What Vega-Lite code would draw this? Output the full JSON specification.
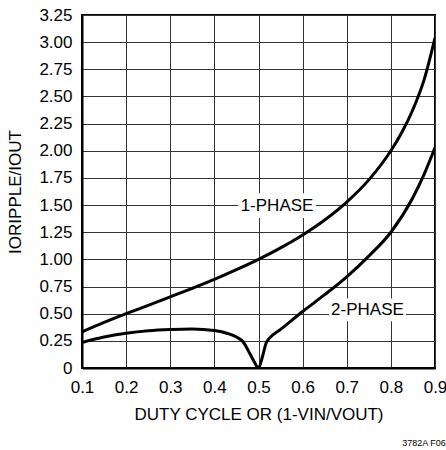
{
  "$schema": "https://vega.github.io/schema/vega-lite/v6.json",
  "width": 353,
  "height": 353,
  "autosize": {"type": "none"},
  "padding": {"left": 82, "top": 15, "right": 11, "bottom": 82},
  "background": "white",
  "title": {"text": "3782A F06", "orient": "bottom", "anchor": "end", "fontSize": 9, "font": "Liberation Sans", "fontWeight": "normal", "color": "black", "offset": 17, "dx": -1},
  "config": {
    "view": {"stroke": "black", "strokeWidth": 2},
    "text": {"font": "Liberation Sans"},
    "axis": {
      "labelFont": "Liberation Sans",
      "titleFont": "Liberation Sans",
      "labelFontSize": 17,
      "titleFontSize": 17,
      "titleFontWeight": "normal",
      "labelColor": "black",
      "titleColor": "black",
      "domainColor": "black",
      "domainWidth": 2,
      "ticks": false,
      "gridColor": "#333",
      "gridWidth": 1,
      "gridOpacity": 1
    }
  },
  "datasets": {
    "curves": [
      {"d": 0.1, "r": 0.333, "s": "1-PHASE"},
      {"d": 0.15, "r": 0.42, "s": "1-PHASE"},
      {"d": 0.2, "r": 0.5, "s": "1-PHASE"},
      {"d": 0.25, "r": 0.577, "s": "1-PHASE"},
      {"d": 0.3, "r": 0.655, "s": "1-PHASE"},
      {"d": 0.35, "r": 0.734, "s": "1-PHASE"},
      {"d": 0.4, "r": 0.816, "s": "1-PHASE"},
      {"d": 0.45, "r": 0.905, "s": "1-PHASE"},
      {"d": 0.5, "r": 1.0, "s": "1-PHASE"},
      {"d": 0.55, "r": 1.106, "s": "1-PHASE"},
      {"d": 0.6, "r": 1.225, "s": "1-PHASE"},
      {"d": 0.65, "r": 1.363, "s": "1-PHASE"},
      {"d": 0.7, "r": 1.528, "s": "1-PHASE"},
      {"d": 0.75, "r": 1.732, "s": "1-PHASE"},
      {"d": 0.8, "r": 2.0, "s": "1-PHASE"},
      {"d": 0.825, "r": 2.17, "s": "1-PHASE"},
      {"d": 0.85, "r": 2.38, "s": "1-PHASE"},
      {"d": 0.875, "r": 2.65, "s": "1-PHASE"},
      {"d": 0.9, "r": 3.04, "s": "1-PHASE"},
      {"d": 0.1, "r": 0.235, "s": "2-PHASE"},
      {"d": 0.15, "r": 0.285, "s": "2-PHASE"},
      {"d": 0.2, "r": 0.32, "s": "2-PHASE"},
      {"d": 0.25, "r": 0.343, "s": "2-PHASE"},
      {"d": 0.3, "r": 0.355, "s": "2-PHASE"},
      {"d": 0.35, "r": 0.36, "s": "2-PHASE"},
      {"d": 0.4, "r": 0.345, "s": "2-PHASE"},
      {"d": 0.43, "r": 0.318, "s": "2-PHASE"},
      {"d": 0.45, "r": 0.285, "s": "2-PHASE"},
      {"d": 0.465, "r": 0.242, "s": "2-PHASE"},
      {"d": 0.48, "r": 0.135, "s": "2-PHASE"},
      {"d": 0.49, "r": 0.06, "s": "2-PHASE"},
      {"d": 0.5, "r": 0.0, "s": "2-PHASE"},
      {"d": 0.51, "r": 0.12, "s": "2-PHASE"},
      {"d": 0.517, "r": 0.227, "s": "2-PHASE"},
      {"d": 0.525, "r": 0.275, "s": "2-PHASE"},
      {"d": 0.55, "r": 0.355, "s": "2-PHASE"},
      {"d": 0.6, "r": 0.52, "s": "2-PHASE"},
      {"d": 0.65, "r": 0.675, "s": "2-PHASE"},
      {"d": 0.7, "r": 0.84, "s": "2-PHASE"},
      {"d": 0.75, "r": 1.03, "s": "2-PHASE"},
      {"d": 0.8, "r": 1.25, "s": "2-PHASE"},
      {"d": 0.85, "r": 1.57, "s": "2-PHASE"},
      {"d": 0.875, "r": 1.78, "s": "2-PHASE"},
      {"d": 0.9, "r": 2.03, "s": "2-PHASE"}
    ],
    "labels": [
      {"label": "1-PHASE", "d": 0.542, "r": 1.49, "d1": 0.454, "d2": 0.63, "r1": 1.38, "r2": 1.61},
      {"label": "2-PHASE", "d": 0.747, "r": 0.534, "d1": 0.66, "d2": 0.834, "r1": 0.43, "r2": 0.64}
    ]
  },
  "layer": [
    {
      "data": {"name": "labels"},
      "mark": {"type": "rect", "fill": "white", "stroke": null},
      "encoding": {
        "x": {"field": "d1", "type": "quantitative", "scale": {"domain": [0.1, 0.9], "nice": false, "zero": false},
          "axis": {"values": [0.1, 0.2, 0.3, 0.4, 0.5, 0.6, 0.7, 0.8, 0.9], "tickCount": 20, "format": ".1f", "labelPadding": 11, "labelFlush": false, "labelOverlap": false, "title": "DUTY CYCLE OR (1-VIN/VOUT)", "titlePadding": 11}},
        "x2": {"field": "d2"},
        "y": {"field": "r1", "type": "quantitative", "scale": {"domain": [0, 3.25], "nice": false, "zero": false},
          "axis": {"values": [0, 0.25, 0.5, 0.75, 1, 1.25, 1.5, 1.75, 2, 2.25, 2.5, 2.75, 3, 3.25], "tickCount": 20, "labelExpr": "datum.value === 0 ? '0' : format(datum.value, '.2f')", "labelPadding": 10, "labelFlush": false, "labelOverlap": false, "title": "IORIPPLE/IOUT", "titlePadding": 14}},
        "y2": {"field": "r2"}
      }
    },
    {
      "data": {"name": "curves"},
      "mark": {"type": "line", "interpolate": "monotone", "strokeWidth": 3, "color": "black", "clip": true},
      "encoding": {
        "x": {"field": "d", "type": "quantitative",
          "axis": {"values": [0.1, 0.2, 0.3, 0.4, 0.5, 0.6, 0.7, 0.8, 0.9], "tickCount": 20, "format": ".1f", "labelPadding": 11, "labelFlush": false, "labelOverlap": false, "title": "DUTY CYCLE OR (1-VIN/VOUT)", "titlePadding": 11}},
        "y": {"field": "r", "type": "quantitative",
          "axis": {"values": [0, 0.25, 0.5, 0.75, 1, 1.25, 1.5, 1.75, 2, 2.25, 2.5, 2.75, 3, 3.25], "tickCount": 20, "labelExpr": "datum.value === 0 ? '0' : format(datum.value, '.2f')", "labelPadding": 10, "labelFlush": false, "labelOverlap": false, "title": "IORIPPLE/IOUT", "titlePadding": 14}},
        "detail": {"field": "s"}
      }
    },
    {
      "data": {"name": "labels"},
      "mark": {"type": "text", "font": "Liberation Sans", "fontSize": 17, "color": "black", "align": "center", "baseline": "middle"},
      "encoding": {
        "x": {"field": "d", "type": "quantitative"},
        "y": {"field": "r", "type": "quantitative"},
        "text": {"field": "label"}
      }
    }
  ]
}
